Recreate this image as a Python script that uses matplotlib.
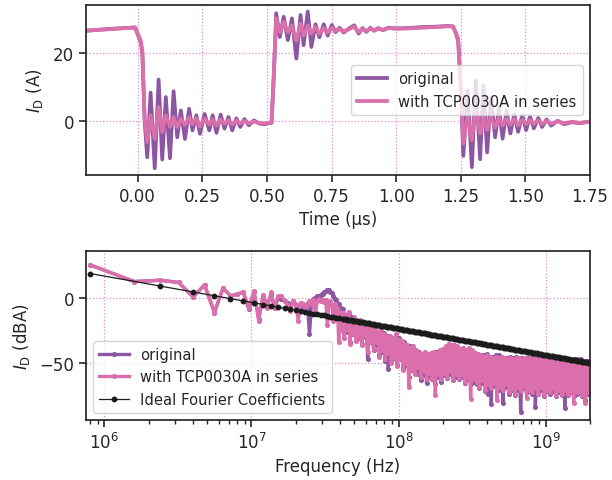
import matplotlib
matplotlib.use("Agg")
import matplotlib.pyplot as plt
import numpy as np
from matplotlib.ticker import FormatStrFormatter, LogLocator, NullFormatter

# ---------------- time-domain data (µs, A) ----------------
t_us = [-0.20, -0.15, -0.10, -0.05, -0.010, 0.002, 0.012, 0.018, 0.027, 0.037,
        0.050, 0.066, 0.081, 0.095, 0.109, 0.125, 0.139, 0.153, 0.167, 0.183,
        0.199, 0.212, 0.227, 0.241, 0.259, 0.277, 0.290, 0.305, 0.321, 0.336,
        0.351, 0.366, 0.382, 0.397, 0.413, 0.430, 0.450, 0.470, 0.490, 0.505,
        0.518, 0.527, 0.536, 0.550, 0.565, 0.581, 0.597, 0.614, 0.630, 0.642,
        0.658, 0.672, 0.688, 0.703, 0.720, 0.735, 0.751, 0.766, 0.781, 0.797,
        0.816, 0.838, 0.855, 0.870, 0.885, 0.900, 0.915, 0.930, 0.950, 0.970,
        1.000, 1.050, 1.100, 1.150, 1.200, 1.220, 1.232, 1.240, 1.250, 1.260,
        1.277, 1.293, 1.308, 1.325, 1.338, 1.352, 1.367, 1.383, 1.398, 1.412,
        1.427, 1.442, 1.457, 1.472, 1.488, 1.503, 1.518, 1.533, 1.550, 1.565,
        1.582, 1.600, 1.625, 1.650, 1.680, 1.710, 1.750]
i_original = [26.4, 26.7, 27.0, 27.2, 27.4, 25.0, 23.0, 20.0, 0.0, -10.4,
              8.4, -13.6, 12.2, -11.1, 7.1, -10.7, 8.8, -4.6, 3.2, -5.1,
              3.7, -2.6, 1.8, -3.6, 2.2, -2.6, 1.8, -3.3, 2.0, -2.1,
              1.3, -2.6, 0.9, -1.6, 0.7, -1.1, 0.3, -0.6, -0.8, -0.5,
              -0.4, 14.0, 31.5, 24.6, 30.5, 23.7, 30.0, 18.3, 31.0, 22.2,
              32.0, 21.7, 28.3, 24.5, 28.3, 25.0, 28.1, 26.0, 27.3, 25.9,
              27.0, 28.0, 25.6, 27.2, 26.1, 27.3, 26.4, 27.2, 26.6, 27.3,
              27.1, 27.2, 27.5, 27.6, 27.8, 27.7, 25.5, 23.5, 10.0, -10.0,
              9.0, -13.3, 12.0, -11.0, 10.5, -9.0, 7.0, -4.6, 4.0, -5.0,
              3.0, -3.5, 2.0, -3.0, 1.8, -2.5, 1.5, -2.0, 1.0, -1.6,
              0.6, -1.2, 0.2, -0.8, -0.2, -0.5, 0.0]
i_tcp = [26.5, 26.7, 26.9, 27.2, 27.3, 25.3, 23.5, 20.5, 1.0, -6.0,
         1.8, -5.1, 4.2, -3.1, 1.8, -1.6, 1.3, -1.6, 0.8, -1.0,
         1.2, -0.8, 0.9, -1.5, 0.8, -0.9, 0.5, -1.2, 0.6, -0.6,
         0.4, -0.9, 0.3, -0.6, 0.2, -0.5, 0.0, -0.4, -0.6, -0.4,
         -0.3, 14.0, 30.0, 26.0, 29.0, 26.0, 28.0, 23.5, 28.5, 25.0,
         28.0, 25.5, 27.5, 25.5, 27.2, 25.8, 27.3, 26.3, 27.0, 26.2,
         26.8, 27.6, 26.0, 27.0, 26.3, 27.1, 26.5, 27.0, 26.7, 27.2,
         27.0, 27.1, 27.3, 27.5, 27.7, 27.6, 25.8, 24.0, 10.0, -6.5,
         2.0, -5.5, 3.5, -3.5, 2.0, -2.5, 1.5, -1.8, 1.0, -1.2,
         0.8, -1.0, 0.7, -1.2, 0.5, -0.8, 0.4, -0.7, 0.3, -0.8,
         0.2, -0.6, 0.0, -0.5, -0.1, -0.4, -0.1]

# ---------------- spectrum data ----------------
f0_mhz = 0.8
low_harm = list(range(1, 52))          # harmonic numbers n (f = n * f0)
low_tcp_db = [24.7, 12.1, 13.1, 11.4, 0.5, 9.5, -11.4, 7.0, 1.3, 2.5,
              4.0, -7.6, 5.0, -17.7, 2.0, -7.6, 3.8, -7.6, 1.2, 1.2,
              -2.5, -6.0, -10.1, -2.5, -5.0, -17.7, -4.0, -5.1, -8.0, -6.0,
              -3.0, -5.0, -2.0, -12.6, -3.0, -1.5, -3.0, -2.0, -3.5, -2.0,
              -21.0, -4.0, -3.0, -6.0, -17.7, -5.0, -12.0, -8.0, -34.0, -11.0, -25.0]
low_orig_db = [24.7, 12.1, 13.1, 11.4, 0.5, 9.5, -11.4, 7.0, 1.3, 2.5,
               4.0, -9.0, 3.8, -16.0, 1.5, -6.0, 2.5, -8.0, 0.0, -1.0,
               -3.0, -4.0, -8.0, -3.0, -6.0, -12.0, -5.0, -6.0, -10.0, -5.0,
               -28.0, -3.0, -1.0, 0.0, 1.0, 0.5, 2.0, 3.0, 4.0, 5.0,
               6.0, 5.5, 4.0, 3.5, 1.0, -1.0, -2.0, -6.0, -5.0, -9.0, -8.0]

band_f_mhz = [41.69, 42.66, 43.65, 44.67, 45.71, 46.77, 47.86, 48.98, 50.12, 51.29,
              52.48, 53.70, 54.95, 56.23, 57.54, 58.88, 60.26, 61.66, 63.10, 64.57,
              66.07, 67.61, 69.18, 70.79, 72.44, 74.13, 75.86, 77.62, 79.43, 81.28,
              83.18, 85.11, 87.10, 89.13, 91.20, 93.33, 95.50, 97.72, 100.0, 102.3,
              104.7, 107.2, 109.6, 112.2, 114.8, 117.5, 120.2, 123.0, 125.9, 128.8,
              131.8, 134.9, 138.0, 141.3, 144.5, 147.9, 151.4, 154.9, 158.5, 162.2,
              166.0, 169.8, 173.8, 177.8, 182.0, 186.2, 190.5, 195.0, 199.5, 204.2,
              208.9, 213.8, 218.8, 223.9, 229.1, 234.4, 239.9, 245.5, 251.2, 257.0,
              263.0, 269.2, 275.4, 281.8, 288.4, 295.1, 302.0, 309.0, 316.2, 323.6,
              331.1, 338.8, 346.7, 354.8, 363.1, 371.5, 380.2, 389.0, 398.1, 407.4,
              416.9, 426.6, 436.5, 446.7, 457.1, 467.7, 478.6, 489.8, 501.2, 512.9,
              524.8, 537.0, 549.5, 562.3, 575.4, 588.8, 602.6, 616.6, 631.0, 645.7,
              660.7, 676.1, 691.8, 707.9, 724.4, 741.3, 758.6, 776.2, 794.3, 812.8,
              831.8, 851.1, 871.0, 891.3, 912.0, 933.3, 955.0, 977.2, 1000, 1023,
              1047, 1072, 1096, 1122, 1148, 1175, 1202, 1230, 1259, 1288,
              1318, 1349, 1380, 1413, 1445, 1479, 1514, 1549, 1585, 1622,
              1660, 1698, 1738, 1778, 1820, 1862, 1905, 1950, 1995]
band_tcp_db = [-12, -31, -14, -24, -11, -35, -16, -27, -15, -33,
               -18, -30, -17, -36, -20, -29, -19, -41, -22, -33,
               -23, -39, -25, -34, -26, -45, -24, -40, -28, -47,
               -30, -42, -29, -50, -31, -45, -28, -52, -32, -46,
               -33, -55, -35, -50, -36, -68, -38, -54, -37, -58,
               -40, -53, -42, -60, -43, -56, -41, -62, -43, -57,
               -42, -61, -41, -74, -42, -58, -40, -62, -39, -57,
               -37, -60, -35, -56, -36, -62, -36, -58, -37, -61,
               -39, -58, -38, -64, -40, -60, -38, -77, -40, -62,
               -42, -64, -43, -68, -44, -63, -45, -70, -44, -66,
               -45, -69, -46, -65, -45, -78, -46, -68, -45, -70,
               -46, -66, -47, -72, -46, -69, -47, -73, -46, -68,
               -46, -71, -47, -67, -46, -76, -47, -70, -46, -72,
               -47, -69, -46, -73, -47, -68, -47, -74, -46, -70,
               -47, -72, -48, -69, -47, -74, -48, -70, -47, -73,
               -48, -70, -47, -73, -48, -71, -47, -80, -48, -72,
               -48, -71, -48, -74, -48, -80, -49, -72, -48]
band_orig_db = [-9, -31, -13, -26, -12, -34, -15, -28, -17, -32,
                -18, -31, -19, -35, -20, -30, -21, -47, -22, -34,
                -24, -40, -25, -36, -27, -44, -26, -41, -27, -48,
                -29, -54, -30, -49, -31, -46, -30, -51, -31, -47,
                -33, -54, -34, -51, -37, -60, -37, -55, -38, -57,
                -41, -58, -41, -63, -43, -59, -42, -65, -43, -60,
                -43, -62, -42, -66, -41, -60, -41, -64, -40, -59,
                -38, -61, -36, -58, -37, -63, -36, -60, -38, -62,
                -39, -60, -39, -65, -41, -62, -39, -66, -41, -64,
                -42, -66, -44, -69, -44, -65, -44, -71, -43, -73,
                -45, -81, -45, -67, -44, -69, -44, -70, -46, -80,
                -46, -68, -46, -73, -45, -70, -46, -74, -45, -70,
                -46, -87, -46, -69, -47, -72, -46, -71, -46, -73,
                -46, -83, -46, -73, -46, -70, -46, -75, -46, -71,
                -46, -73, -47, -71, -47, -75, -47, -72, -46, -74,
                -47, -84, -47, -74, -47, -72, -47, -75, -47, -73,
                -47, -72, -47, -75, -48, -78, -48, -73, -48]

ideal_low_harm = [1, 3, 5, 7, 9, 11, 13, 15, 17, 19, 21, 23, 25, 27, 29, 31, 33,
                  35, 37, 39, 41, 43, 45, 47, 49]
ideal_low_db = [18.2, 8.66, 4.22, 1.30, -0.88, -2.63, -4.08, -5.32, -6.41, -7.38,
                -8.24, -9.03, -9.76, -10.43, -11.05, -11.63, -12.17, -12.68, -13.16,
                -13.62, -14.06, -14.47, -14.86, -15.24, -15.60]
# ideal coefficients read at the band frequencies (dense part of the black line)
ideal_dense_db = [-16.1, -16.3, -16.5, -16.7, -16.9, -17.1, -17.3, -17.5, -17.7, -17.9,
                  -18.1, -18.3, -18.5, -18.7, -18.9, -19.1, -19.3, -19.5, -19.7, -19.9,
                  -20.1, -20.3, -20.5, -20.7, -20.9, -21.1, -21.3, -21.5, -21.7, -21.9,
                  -22.1, -22.3, -22.5, -22.7, -22.9, -23.1, -23.3, -23.5, -23.7, -23.9,
                  -24.1, -24.3, -24.5, -24.7, -24.9, -25.1, -25.3, -25.5, -25.7, -25.9,
                  -26.1, -26.3, -26.5, -26.7, -26.9, -27.1, -27.3, -27.5, -27.7, -27.9,
                  -28.1, -28.3, -28.5, -28.7, -28.9, -29.1, -29.3, -29.5, -29.7, -29.9,
                  -30.1, -30.3, -30.5, -30.7, -30.9, -31.1, -31.3, -31.5, -31.7, -31.9,
                  -32.1, -32.3, -32.5, -32.7, -32.9, -33.1, -33.3, -33.5, -33.7, -33.9,
                  -34.1, -34.3, -34.5, -34.7, -34.9, -35.1, -35.3, -35.5, -35.7, -35.9,
                  -36.1, -36.3, -36.5, -36.7, -36.9, -37.1, -37.3, -37.5, -37.7, -37.9,
                  -38.1, -38.3, -38.5, -38.7, -38.9, -39.1, -39.3, -39.5, -39.7, -39.9,
                  -40.1, -40.3, -40.5, -40.7, -40.9, -41.1, -41.3, -41.5, -41.7, -41.9,
                  -42.1, -42.3, -42.5, -42.7, -42.9, -43.1, -43.3, -43.5, -43.7, -43.9,
                  -44.1, -44.3, -44.5, -44.7, -44.9, -45.1, -45.3, -45.5, -45.7, -45.9,
                  -46.1, -46.3, -46.5, -46.7, -46.9, -47.1, -47.3, -47.5, -47.7, -47.9,
                  -48.1, -48.3, -48.5, -48.7, -48.9, -49.1, -49.3, -49.5, -49.7]

labels = ["original", "with TCP0030A in series", "Ideal Fourier Coefficients"]

# ---------------- style ----------------
PURPLE = "#8c56a2"
PINK = "#da6fab"
GRIDC = "#e58cc8"
DARK = "#262626"

plt.rcParams.update({
    "font.family": ["DejaVu Sans"],
    "axes.edgecolor": DARK,
    "axes.linewidth": 1.25,
    "xtick.color": DARK, "ytick.color": DARK,
    "text.color": DARK, "axes.labelcolor": DARK,
    "xtick.direction": "out", "ytick.direction": "out",
    "xtick.major.size": 5, "ytick.major.size": 5,
    "xtick.minor.size": 3, "xtick.major.width": 1.2, "ytick.major.width": 1.2,
    "xtick.minor.width": 1.0,
})

fig = plt.figure(figsize=(6.12, 4.81), dpi=100)
ax1 = fig.add_axes([0.1405, 0.634, 0.8235, 0.3534])
ax2 = fig.add_axes([0.1405, 0.1247, 0.8235, 0.3514])

# top: time domain
ax1.plot(t_us, i_original, color=PURPLE, lw=2.7, label=labels[0])
ax1.plot(t_us, i_tcp, color=PINK, lw=2.7, label=labels[1])
ax1.set_xlim(-0.2, 1.75)
ax1.set_ylim(-15.6, 33.9)
ax1.set_xticks([0.0, 0.25, 0.5, 0.75, 1.0, 1.25, 1.5, 1.75])
ax1.xaxis.set_major_formatter(FormatStrFormatter("%.2f"))
ax1.set_yticks([0, 20])
ax1.set_xlabel("Time (µs)", fontsize=12)
ax1.set_ylabel(r"$I_\mathrm{D}$ (A)", fontsize=12)
ax1.yaxis.set_label_coords(-0.081, 0.5)
ax1.tick_params(labelsize=12)
ax1.grid(True, color=GRIDC, ls=":", lw=0.9)
ax1.legend(loc="center right", fontsize=10.6, framealpha=0.8, edgecolor="0.8",
           handlelength=2.0)

# bottom: spectrum
f_all = [n * f0_mhz * 1e6 for n in low_harm] + [f * 1e6 for f in band_f_mhz]
orig_all = low_orig_db + band_orig_db
tcp_all = low_tcp_db + band_tcp_db
ideal_f = [n * f0_mhz * 1e6 for n in ideal_low_harm] + [f * 1e6 for f in band_f_mhz]
ideal_all = ideal_low_db + ideal_dense_db

ax2.plot(f_all, orig_all, "-o", color=PURPLE, lw=2.4, ms=2.6, label=labels[0])
ax2.plot(f_all, tcp_all, "-o", color=PINK, lw=2.4, ms=2.6, label=labels[1])
ax2.plot(ideal_f, ideal_all, "-o", color="#1c1c1c", lw=0.9, ms=3.2, label=labels[2])
ax2.set_xscale("log")
ax2.set_xlim(7.5e5, 2.0e9)
ax2.set_ylim(-93, 35.3)
ax2.set_yticks([-50, 0])
ax2.xaxis.set_major_locator(LogLocator(base=10, numticks=10))
ax2.xaxis.set_minor_locator(LogLocator(base=10, subs=np.arange(2, 10), numticks=100))
ax2.xaxis.set_minor_formatter(NullFormatter())
ax2.set_xlabel("Frequency (Hz)", fontsize=12)
ax2.set_ylabel(r"$I_\mathrm{D}$ (dBA)", fontsize=12)
ax2.yaxis.set_label_coords(-0.108, 0.5)
ax2.tick_params(labelsize=12)
ax2.grid(True, which="major", color=GRIDC, ls=":", lw=0.9)
ax2.legend(loc="lower left", fontsize=10.6, framealpha=0.8, edgecolor="0.8",
           handlelength=2.0)

fig.savefig("out.png", dpi=100)
